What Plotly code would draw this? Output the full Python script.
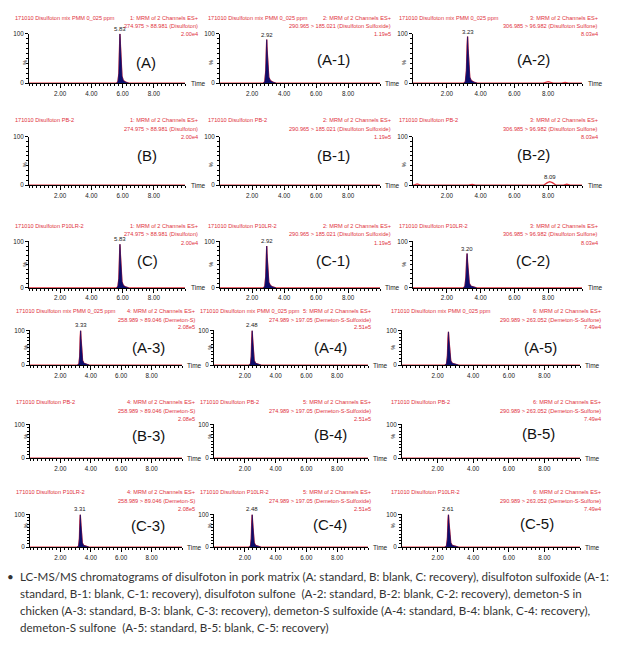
import plotly.graph_objects as go

W, H = 620, 652

# ---------------- data ----------------
sample_names = ["171010 Disulfoton mix PMM 0_025 ppm", "171010 Disulfoton PB-2", "171010 Disulfoton P10LR-2"]
channel_titles = ["1: MRM of 2 Channels ES+", "2: MRM of 2 Channels ES+", "3: MRM of 2 Channels ES+",
                  "4: MRM of 2 Channels ES+", "5: MRM of 2 Channels ES+", "6: MRM of 2 Channels ES+"]
transitions = ["274.975 > 88.981 (Disulfoton)", "290.965 > 185.021 (Disulfoton Sulfoxide)",
               "306.985 > 96.982 (Disulfoton Sulfone)", "258.989 > 89.046 (Demeton-S)",
               "274.989 > 197.05 (Demeton-S-Sulfoxide)", "290.989 > 263.052 (Demeton-S-Sulfone)"]
intensity_scales = ["2.00e4", "1.19e5", "8.03e4", "2.08e5", "2.51e5", "7.49e4"]
panel_labels = [["(A)", "(A-1)", "(A-2)"], ["(B)", "(B-1)", "(B-2)"], ["(C)", "(C-1)", "(C-2)"],
                ["(A-3)", "(A-4)", "(A-5)"], ["(B-3)", "(B-4)", "(B-5)"], ["(C-3)", "(C-4)", "(C-5)"]]
x_tick_values = [2, 4, 6, 8]
x_tick_labels = ["2.00", "4.00", "6.00", "8.00"]

# chromatogram signals (time, % intensity); integrated peak + other baseline features
A_t = [5.60, 5.70, 5.76, 5.80, 5.83, 5.86, 5.90, 5.96, 6.05, 6.20, 6.40]
A_y = [0, 3, 20, 70, 100, 78, 40, 14, 5, 2, 0]
A1_t = [2.70, 2.80, 2.86, 2.90, 2.92, 2.95, 2.99, 3.05, 3.15, 3.30, 3.50]
A1_y = [0, 3, 25, 72, 88, 65, 32, 12, 5, 2, 0]
A2_t = [3.00, 3.10, 3.16, 3.20, 3.23, 3.26, 3.30, 3.36, 3.45, 3.60, 3.80]
A2_y = [0, 3, 25, 75, 94, 70, 35, 12, 5, 2, 0]
A2_noise_t = [0.1, 0.3, 0.5, 7.7, 8.0, 8.3, 8.8, 9.0, 9.2]
A2_noise_y = [0, 1.5, 0, 0, 3, 0, 0, 1.5, 0]
B2_noise_t = [0.05, 0.25, 0.45, 3.3, 3.5, 3.7, 7.75, 7.95, 8.09, 8.25, 8.45, 8.9, 9.1, 9.3]
B2_noise_y = [0, 2.5, 0, 0, 1.5, 0, 0, 5, 7, 5, 0, 0, 2, 0]
C_t = [5.60, 5.70, 5.76, 5.80, 5.83, 5.86, 5.90, 5.96, 6.05, 6.20, 6.40]
C_y = [0, 3, 20, 66, 94, 72, 38, 13, 5, 2, 0]
C1_t = [2.70, 2.80, 2.86, 2.90, 2.92, 2.95, 2.99, 3.05, 3.15, 3.30, 3.50]
C1_y = [0, 3, 25, 72, 90, 66, 32, 12, 5, 2, 0]
C2_t = [2.97, 3.07, 3.13, 3.17, 3.20, 3.23, 3.27, 3.33, 3.42, 3.57, 3.77]
C2_y = [0, 3, 22, 58, 74, 55, 28, 10, 4, 2, 0]
A3_t = [3.12, 3.22, 3.27, 3.30, 3.33, 3.36, 3.40, 3.46, 3.55, 3.70, 3.90]
A3_y = [0, 3, 25, 78, 100, 75, 38, 13, 5, 2, 0]
A4_t = [2.27, 2.37, 2.42, 2.45, 2.48, 2.51, 2.55, 2.61, 2.70, 2.85, 3.05]
A4_y = [0, 3, 25, 78, 100, 75, 38, 13, 5, 2, 0]
A5_t = [2.40, 2.50, 2.55, 2.58, 2.61, 2.64, 2.68, 2.74, 2.83, 2.98, 3.18]
A5_y = [0, 3, 25, 75, 96, 72, 36, 12, 5, 2, 0]
C3_t = [3.10, 3.20, 3.25, 3.28, 3.31, 3.34, 3.38, 3.44, 3.53, 3.68, 3.88]
C3_y = [0, 3, 25, 80, 100, 76, 38, 13, 5, 2, 0]
C4_t = [2.27, 2.37, 2.42, 2.45, 2.48, 2.51, 2.55, 2.61, 2.70, 2.85, 3.05]
C4_y = [0, 3, 25, 78, 100, 75, 38, 13, 5, 2, 0]
C5_t = [2.40, 2.50, 2.55, 2.58, 2.61, 2.64, 2.68, 2.74, 2.83, 2.98, 3.18]
C5_y = [0, 3, 25, 78, 100, 75, 38, 13, 5, 2, 0]

# per-panel: (peak_t, peak_y, peak label, extra_t, extra_y, extra label)
panels = [
    [(A_t, A_y, "5.83", [], [], None), (A1_t, A1_y, "2.92", [], [], None), (A2_t, A2_y, "3.23", A2_noise_t, A2_noise_y, None)],
    [([], [], None, [], [], None), ([], [], None, [], [], None), ([], [], None, B2_noise_t, B2_noise_y, "8.09")],
    [(C_t, C_y, "5.83", [], [], None), (C1_t, C1_y, "2.92", [], [], None), (C2_t, C2_y, "3.20", [], [], None)],
    [(A3_t, A3_y, "3.33", [], [], None), (A4_t, A4_y, "2.48", [], [], None), (A5_t, A5_y, None, [], [], None)],
    [([], [], None, [], [], None), ([], [], None, [], [], None), ([], [], None, [], [], None)],
    [(C3_t, C3_y, "3.31", [], [], None), (C4_t, C4_y, "2.48", [], [], None), (C5_t, C5_y, "2.61", [], [], None)],
]

caption_lines = [
    "LC-MS/MS chromatograms of disulfoton in pork matrix (A: standard, B: blank, C: recovery), disulfoton sulfoxide (A-1:",
    "standard, B-1: blank, C-1: recovery), disulfoton sulfone  (A-2: standard, B-2: blank, C-2: recovery), demeton-S in",
    "chicken (A-3: standard, B-3: blank, C-3: recovery), demeton-S sulfoxide (A-4: standard, B-4: blank, C-4: recovery),",
    "demeton-S sulfone  (A-5: standard, B-5: blank, C-5: recovery)",
]

# ---------------- layout geometry (pixels) ----------------
row_y = [(30, 80), (134, 183), (240, 287), (330, 365), (425, 459), (516, 549)]
col_x_top = [(29, 185), (220, 380), (413, 582)]
col_x_bot = [(30, 182), (214, 368), (402, 580)]
head_y = [(14, 22, 30), (117, 126, 134), (224, 233, 242), (310, 319, 327), (402, 411, 419), (493, 502, 510)]
left_x_top = [13, 206, 397]
left_x_bot = [14, 198, 389]
right_x_top = [200, 393, 600]
right_x_bot = [197, 373, 603]
time_x_top = [189, 383, 586]
time_x_bot = [185, 371, 583]
label_pos = [
    [(146, 59), (333, 56), (533, 56)],
    [(147, 153), (333, 153), (533, 152)],
    [(147, 259), (333, 259), (533, 259)],
    [(148, 347), (330, 347), (540, 347)],
    [(148, 436), (330, 435), (538, 434)],
    [(148, 527), (330, 526), (537, 525)],
]

RED = "#e0313c"
NAVY = "#0d0d6b"
HFONT = "Liberation Sans, Arial, sans-serif"
HSIZE = 5.6
CFONT = "Lato"
CSIZE = 11.6


def px(x):
    return x / W


def py(y):
    return 1 - y / H


fig = go.Figure()
layout = dict(width=W, height=H, margin=dict(l=0, r=0, t=0, b=0),
              paper_bgcolor="white", plot_bgcolor="rgba(0,0,0,0)", showlegend=False)
annotations = []

idx = 0
for r in range(6):
    for c in range(3):
        idx += 1
        xs = "x" if idx == 1 else f"x{idx}"
        ys = "y" if idx == 1 else f"y{idx}"
        xa = "xaxis" if idx == 1 else f"xaxis{idx}"
        ya = "yaxis" if idx == 1 else f"yaxis{idx}"
        cx = col_x_top[c] if r < 3 else col_x_bot[c]
        top, bot = row_y[r]
        layout[xa] = dict(domain=[px(cx[0]), px(cx[1])], range=[0, 10], anchor=ys,
                          showline=True, linecolor="black", linewidth=1, showgrid=False, zeroline=False,
                          tickmode="array", tickvals=x_tick_values, ticktext=x_tick_labels,
                          ticks="outside", ticklen=4, tickcolor="black", tickwidth=1,
                          tickfont=dict(family=HFONT, size=6.3, color="#222"),
                          minor=dict(dtick=0.25, tick0=0, ticks="outside", ticklen=2, tickcolor="black", showgrid=False),
                          fixedrange=True)
        layout[ya] = dict(domain=[py(bot), py(top)], range=[0, 100], anchor=xs,
                          showline=True, linecolor="black", linewidth=1, showgrid=False, zeroline=False,
                          tickmode="array", tickvals=[0, 100], ticktext=["0", "100"],
                          ticks="outside", ticklen=3, tickcolor="black",
                          tickfont=dict(family=HFONT, size=6.3, color="#222"),
                          minor=dict(dtick=10, tick0=0, ticks="outside", ticklen=2, tickcolor="black", showgrid=False),
                          fixedrange=True)
        pt, pyv, plab, et, ey, elab = panels[r][c]
        ft = [0.0] + list(et) + list(pt) + [10.0]
        fy = [0.0] + list(ey) + list(pyv) + [0.0]
        order = sorted(range(len(ft)), key=lambda i: ft[i])
        fig.add_trace(go.Scatter(x=[ft[i] for i in order], y=[fy[i] for i in order], mode="lines",
                                 line=dict(color=RED, width=1.3), xaxis=xs, yaxis=ys, hoverinfo="skip",
                                 cliponaxis=False))
        if pt:
            fig.add_trace(go.Scatter(x=pt, y=pyv, mode="lines", fill="tozeroy", fillcolor=NAVY,
                                     line=dict(color=NAVY, width=0.6), xaxis=xs, yaxis=ys, hoverinfo="skip"))
            if plab:
                k = pyv.index(max(pyv))
                annotations.append(dict(x=pt[k], y=pyv[k], xref=xs, yref=ys, text=plab, showarrow=False,
                                        yanchor="bottom", yshift=0, font=dict(family=HFONT, size=6, color="#222")))
        if elab:
            k = ey.index(max(ey))
            annotations.append(dict(x=et[k], y=ey[k], xref=xs, yref=ys, text=elab, showarrow=False,
                                    yanchor="bottom", yshift=0, font=dict(family=HFONT, size=6, color="#222")))
        annotations.append(dict(x=px(cx[0] - 9), y=py((top + bot) / 2), xref="paper", yref="paper", text="%",
                                showarrow=False, textangle=-90, font=dict(family=HFONT, size=5.5, color="#222")))
        tx = time_x_top[c] if r < 3 else time_x_bot[c]
        annotations.append(dict(x=px(tx), y=py(bot), xref="paper", yref="paper", text="Time", showarrow=False,
                                xanchor="left", yanchor="middle", font=dict(family=HFONT, size=6.5, color="#222")))
        ch = c if r < 3 else c + 3
        sname = sample_names[r % 3]
        lx = left_x_top[c] if r < 3 else left_x_bot[c]
        rx = right_x_top[c] if r < 3 else right_x_bot[c]
        hy = head_y[r]
        annotations.append(dict(x=px(lx), y=py(hy[0]), xref="paper", yref="paper", text=sname, showarrow=False,
                                xanchor="left", yanchor="middle", font=dict(family=HFONT, size=HSIZE, color=RED)))
        for line_txt, yy in zip([channel_titles[ch], transitions[ch], intensity_scales[ch]], hy):
            annotations.append(dict(x=px(rx), y=py(yy), xref="paper", yref="paper", text=line_txt,
                                    showarrow=False, xanchor="right", yanchor="middle",
                                    font=dict(family=HFONT, size=HSIZE, color=RED)))
        lp = label_pos[r][c]
        annotations.append(dict(x=px(lp[0]), y=py(lp[1]), xref="paper", yref="paper", text=panel_labels[r][c],
                                showarrow=False, xanchor="center", yanchor="middle",
                                font=dict(family="Liberation Sans, Arial, sans-serif", size=15, color="#111")))

annotations.append(dict(x=px(5), y=py(579), xref="paper", yref="paper", text="•", showarrow=False,
                        xanchor="left", yanchor="middle", font=dict(family=CFONT, size=CSIZE, color="#333")))
for i, line in enumerate(caption_lines):
    annotations.append(dict(x=px(18), y=py(579 + 17 * i), xref="paper", yref="paper", text=line, showarrow=False,
                            xanchor="left", yanchor="middle", font=dict(family=CFONT, size=CSIZE, color="#333")))

layout["annotations"] = annotations
fig.update_layout(**layout)
fig.write_html("out.html", config={"displayModeBar": False},
               post_script="document.body.style.margin='0';document.body.style.overflow='hidden';")
